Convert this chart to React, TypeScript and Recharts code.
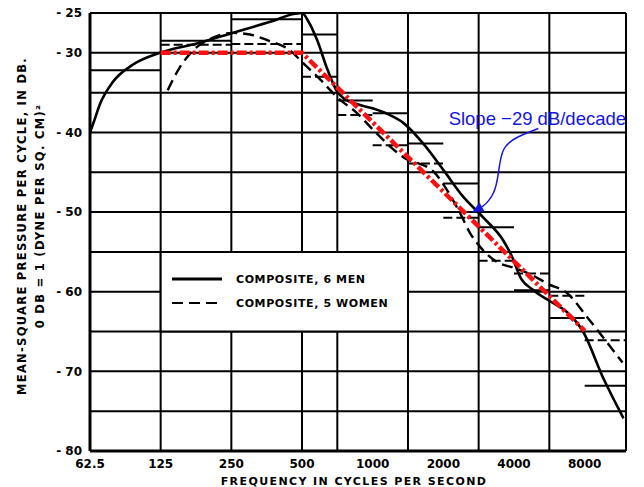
import React from 'react';
import {
  LineChart,
  Line,
  XAxis,
  YAxis,
  CartesianGrid,
  ReferenceLine,
  ReferenceArea,
  ReferenceDot,
  Legend,
  Label
} from 'recharts';

// axis ticks and grid
const freqTicks = [62.5, 125, 250, 500, 1000, 2000, 4000, 8000];
const levelTicks = [-80, -70, -60, -50, -40, -30, -25];
const gridFreqs = [62.5, 125, 250, 500, 707, 1000, 1414, 2000, 2828, 4000, 5657, 8000, 12000];
const gridLevels = [-80, -75, -70, -65, -60, -55, -50, -45, -40, -35, -30, -25];

// composite curve, 6 men (solid)
const menName = 'COMPOSITE, 6 MEN';
const menFreq = [62.5, 65, 69, 78, 95, 124, 180, 253, 366, 467, 500, 531, 580, 640, 707, 760, 870, 1006, 1180, 1350, 1643, 2000, 2434, 2963, 3606, 3937, 4260, 4840, 5700, 6757, 7840, 9620, 11712];
const menLevel = [-40, -38.6, -36.4, -33.7, -31.5, -30, -28.8, -27.5, -26.1, -25.1, -25, -26, -28.4, -32, -34.9, -35.8, -36.5, -37, -37.8, -38.8, -41.4, -44.7, -48.1, -50.7, -53.6, -55.7, -58.2, -59.8, -61.2, -62.6, -64.9, -70.9, -75.9];

// composite curve, 5 women (dashed)
const womenName = 'COMPOSITE, 5 WOMEN';
const womenFreq = [134, 151, 172, 209, 253, 300, 355, 445, 506, 600, 707, 860, 1006, 1350, 1813, 2080, 2363, 2607, 2875, 3400, 4000, 4840, 5560, 6757, 8200, 11600];
const womenLevel = [-34.7, -31.8, -29.7, -28.1, -27.5, -27.7, -28.4, -29.7, -31.3, -33.4, -35.6, -37.6, -39.7, -43.1, -44.9, -47.3, -50.2, -52.7, -54.4, -56.3, -57, -58, -59, -60.2, -63.2, -68.9];

// band levels (half-octave above 500 c/s)
const bandEdges = [62.5, 125, 250, 500, 707, 1000, 1414, 2000, 2828, 4000, 5657, 8000, 12000];
const menBands = [-32.2, -28.5, -25.8, -27.7, -36.0, -37.6, -41.4, -46.4, -51.9, -59.8, -63.3, -71.8];
const womenBands = [null, -29.0, -28.9, -33.0, -37.8, -41.6, -43.9, -50.7, -56.1, -57.7, -60.5, -66.1];

// -29 dB/decade slope line
const slopeFreq = [125, 500, 8000];
const slopeLevel = [-30, -30, -64.9];

// annotation arrow
const arrowFreq = [5080, 4137, 3606, 3432, 3268, 2963, 2657];
const arrowLevel = [-39.5, -40.6, -42.2, -45.1, -47.6, -49.2, -50.0];
const annotationText = 'Slope \u221229 dB/decade';

const legendOrder = [menName, womenName];

const zip = (fs: number[], vs: number[]) => fs.map((f, i) => ({ f, v: vs[i] }));

const menData = zip(menFreq, menLevel);
const womenData = zip(womenFreq, womenLevel);
const slopeData = zip(slopeFreq, slopeLevel);
const arrowData = zip(arrowFreq, arrowLevel);

const LETTER_FONT = '"DejaVu Sans", sans-serif';
const BLUE = '#1414e6';

const fmtLevel = (v: number) => `- ${Math.abs(v)}`;

const YTitle = (props: any) => {
  const { viewBox } = props;
  const cy = viewBox.y + viewBox.height / 2 - 6;
  const x1 = viewBox.x - 28;
  const x2 = viewBox.x - 10;
  const style = { fontFamily: LETTER_FONT, fontSize: 11.5, fontWeight: 700, letterSpacing: 1.3 };
  return (
    <g>
      <text x={x1} y={cy} transform={`rotate(-90, ${x1}, ${cy})`} textAnchor="middle" dominantBaseline="central" style={style}>
        MEAN-SQUARE PRESSURE PER CYCLE, IN DB.
      </text>
      <text x={x2} y={cy - 10} transform={`rotate(-90, ${x2}, ${cy - 10})`} textAnchor="middle" dominantBaseline="central" style={style}>
        0 DB = 1 (DYNE PER SQ. CM)²
      </text>
    </g>
  );
};

const XTitle = (props: any) => {
  const { viewBox } = props;
  const cx = viewBox.x + viewBox.width / 2 - 4;
  return (
    <text x={cx} y={viewBox.y + 30} textAnchor="middle" dominantBaseline="central"
      style={{ fontFamily: LETTER_FONT, fontSize: 11, fontWeight: 700, letterSpacing: 1.4 }}>
      FREQUENCY IN CYCLES PER SECOND
    </text>
  );
};

const SlopeLabel = (props: any) => {
  const { viewBox } = props;
  return (
    <text x={viewBox.x - 1} y={viewBox.y + 1} textAnchor="middle" fill={BLUE}
      style={{ fontFamily: '"Liberation Sans", Arial, sans-serif', fontSize: 18.5 }}>
      {annotationText}
    </text>
  );
};

const ArrowHead = (props: any) => {
  const { cx, cy, index } = props;
  if (index !== arrowData.length - 1) return <g key={`ah-${index}`} />;
  const ang = Math.atan2(6, -11);
  const len = 11;
  const half = 5;
  const bx = cx - len * Math.cos(ang);
  const by = cy - len * Math.sin(ang);
  const px = -Math.sin(ang) * half;
  const py = Math.cos(ang) * half;
  return (
    <polygon key={`ah-${index}`} points={`${cx},${cy} ${bx + px},${by + py} ${bx - px},${by - py}`} fill={BLUE} />
  );
};

const LegendBox = (props: any) => {
  const items = (props.payload || [])
    .filter((p: any) => legendOrder.includes(p.value))
    .sort((a: any, b: any) => legendOrder.indexOf(a.value) - legendOrder.indexOf(b.value));
  return (
    <div>
      {items.map((p: any) => (
        <div key={p.value} style={{ display: 'flex', alignItems: 'center', height: 24 }}>
          <svg width={52} height={6}>
            <line x1={0} y1={3} x2={50} y2={3} stroke="#000" strokeWidth={p.payload.strokeDasharray ? 2 : 3}
              strokeDasharray={p.payload.strokeDasharray} />
          </svg>
          <span style={{ marginLeft: 12, fontFamily: LETTER_FONT, fontSize: 11, fontWeight: 700, letterSpacing: 0.6, color: '#000' }}>
            {p.value}
          </span>
        </div>
      ))}
    </div>
  );
};

const App: React.FC = () => {
  return (
    <div style={{ position: 'absolute', left: 0, top: 0, background: '#fff' }}>
      <LineChart width={644} height={487} margin={{ top: 13, right: 18, bottom: 16, left: 50 }}>
        <CartesianGrid stroke="#000" strokeWidth={2} horizontalValues={gridLevels} verticalValues={gridFreqs} />
        <XAxis
          dataKey="f"
          type="number"
          scale="log"
          domain={[62.5, 12000]}
          ticks={freqTicks}
          allowDataOverflow
          height={20}
          tickLine={false}
          axisLine={{ stroke: '#000', strokeWidth: 3 }}
          tick={{ fill: '#000', fontSize: 12, fontWeight: 700, fontFamily: LETTER_FONT }}
        >
          <Label content={XTitle} />
        </XAxis>
        <YAxis
          dataKey="v"
          type="number"
          domain={[-80, -25]}
          ticks={levelTicks}
          allowDataOverflow
          width={40}
          tickLine={false}
          tickFormatter={fmtLevel}
          axisLine={{ stroke: '#000', strokeWidth: 3 }}
          tick={{ fill: '#000', fontSize: 12, fontWeight: 700, fontFamily: LETTER_FONT }}
        >
          <Label content={YTitle} />
        </YAxis>

        {bandEdges.slice(0, -1).map((f0, i) => (
          <ReferenceLine key={`m${i}`} segment={[{ x: f0, y: menBands[i] }, { x: bandEdges[i + 1], y: menBands[i] }]}
            stroke="#000" strokeWidth={2} />
        ))}
        {bandEdges.slice(0, -1).map((f0, i) =>
          womenBands[i] == null ? null : (
            <ReferenceLine key={`w${i}`} segment={[{ x: f0, y: womenBands[i] as number }, { x: bandEdges[i + 1], y: womenBands[i] as number }]}
              stroke="#000" strokeWidth={2} strokeDasharray="9 4" />
          )
        )}

        <ReferenceArea x1={125} x2={1414} y1={-65} y2={-55} fill="#fff" fillOpacity={1} stroke="#000" strokeWidth={2} />

        <Line data={menData} dataKey="v" name={menName} type="monotone" stroke="#000" strokeWidth={2.6}
          dot={false} isAnimationActive={false} />
        <Line data={womenData} dataKey="v" name={womenName} type="monotone" stroke="#000" strokeWidth={2.4}
          strokeDasharray="11 6" dot={false} isAnimationActive={false} />
        <Line data={slopeData} dataKey="v" name="slope" type="linear" stroke="#ff1010" strokeWidth={4.5}
          strokeDasharray="10 3 3 3" dot={false} legendType="none" isAnimationActive={false} />
        <Line data={arrowData} dataKey="v" name="arrow" type="natural" stroke={BLUE} strokeWidth={1.5}
          dot={ArrowHead} legendType="none" isAnimationActive={false} />

        <ReferenceDot x={arrowFreq[0]} y={-38.9} r={0} fill="none" stroke="none">
          <Label content={SlopeLabel} />
        </ReferenceDot>

        <Legend
          layout="horizontal"
          verticalAlign="middle"
          content={LegendBox}
          wrapperStyle={{ left: 172, top: 267, width: 230 }}
        />
      </LineChart>
    </div>
  );
};

export default App;
